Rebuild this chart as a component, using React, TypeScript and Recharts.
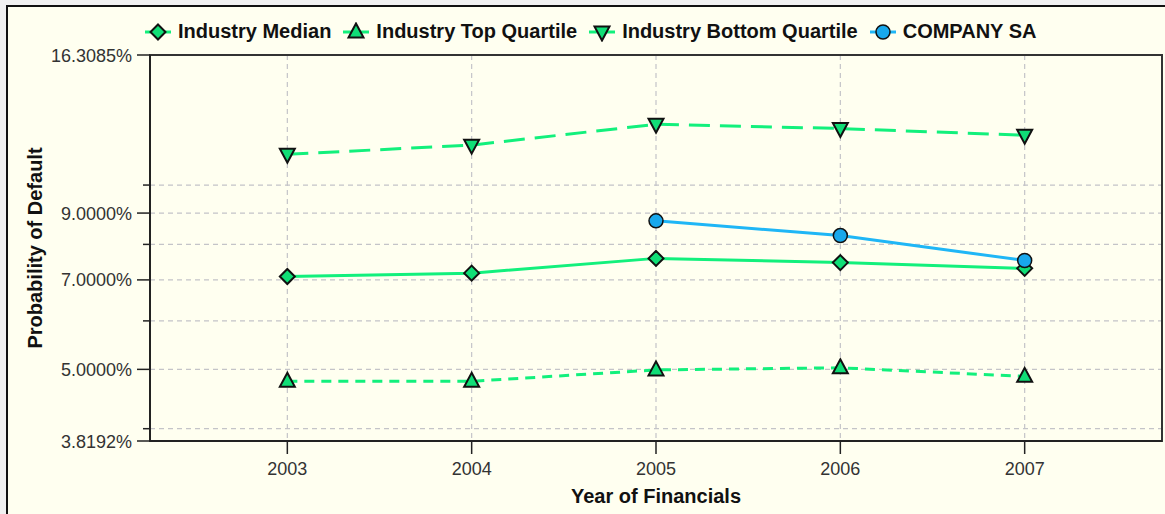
import React from 'react'
import {
  LineChart, Line, XAxis, YAxis, CartesianGrid, Legend, ReferenceArea, Label
} from 'recharts'

const years = [2003, 2004, 2005, 2006, 2007]
const median = [7.09, 7.18, 7.59, 7.47, 7.31]
const topQuartile = [4.78, 4.78, 4.99, 5.03, 4.87]
const bottomQuartile = [11.23, 11.62, 12.57, 12.37, 12.06]
const company = [null, null, 8.74, 8.27, 7.53]

const yMin = 3.8192
const yMax = 16.3085
const yTicks = [3.8192, 4, 5, 6, 7, 8, 9, 10, 16.3085]
const yLabeled = [3.8192, 5, 7, 9, 16.3085]
const xDomain = [2002.255, 2007.745]

const GREEN = '#12f07c'
const GREEN_FILL = '#10de76'
const BLUE = '#1fb6f6'
const BLUE_FILL = '#18a8ec'
const FONT = '"Liberation Sans", Arial, sans-serif'

const data = years.map((y, i) => ({
  year: y,
  median: median[i],
  top: topQuartile[i],
  bottom: bottomQuartile[i],
  company: company[i],
}))

type Shape = 'diamond' | 'up' | 'down' | 'circle'

const Marker = ({ cx, cy, shape }: { cx: number, cy: number, shape: Shape }) => {
  if (cx == null || cy == null || isNaN(cy)) return <g />
  const st = { stroke: '#111', strokeWidth: 2, strokeLinejoin: 'miter' as const }
  if (shape === 'diamond') {
    const r = 7.5
    return <polygon points={`${cx},${cy - r} ${cx + r},${cy} ${cx},${cy + r} ${cx - r},${cy}`} fill={GREEN_FILL} {...st} />
  }
  if (shape === 'up') {
    return <polygon points={`${cx},${cy - 8.5} ${cx + 7.5},${cy + 5.5} ${cx - 7.5},${cy + 5.5}`} fill={GREEN_FILL} {...st} />
  }
  if (shape === 'down') {
    return <polygon points={`${cx},${cy + 8.5} ${cx + 7.5},${cy - 5.5} ${cx - 7.5},${cy - 5.5}`} fill={GREEN_FILL} {...st} />
  }
  return <circle cx={cx} cy={cy} r={7} fill={BLUE_FILL} stroke="#111" strokeWidth={1.5} />
}

const dotOf = (shape: Shape) => (p: any) => <Marker key={`${shape}-${p.index}`} cx={p.cx} cy={p.cy} shape={shape} />

const legendItems: { name: string, shape: Shape, color: string }[] = [
  { name: 'Industry Median', shape: 'diamond', color: GREEN },
  { name: 'Industry Top Quartile', shape: 'up', color: GREEN },
  { name: 'Industry Bottom Quartile', shape: 'down', color: GREEN },
  { name: 'COMPANY SA', shape: 'circle', color: BLUE },
]

const renderLegend = () => (
  <div style={{ display: 'flex', alignItems: 'center', fontFamily: FONT, fontWeight: 'bold', fontSize: 20, color: '#111', whiteSpace: 'nowrap' }}>
    {legendItems.map(it => (
      <div key={it.name} style={{ display: 'flex', alignItems: 'center', marginRight: 12 }}>
        <svg width={26} height={20} style={{ marginRight: 7 }}>
          <line x1={0} x2={26} y1={10} y2={10} stroke={it.color} strokeWidth={3} />
          <Marker cx={13} cy={10} shape={it.shape} />
        </svg>
        <span>{it.name}</span>
      </div>
    ))}
  </div>
)

const YTick = ({ x, y, payload }: any) => {
  const major = yLabeled.includes(payload.value)
  return (
    <g>
      <line x1={x - (major ? 13 : 7)} x2={x} y1={y} y2={y} stroke="#222" strokeWidth={1.5} />
      {major && (
        <text x={x - 18} y={y + 6.5} textAnchor="end" fontSize={18} fontFamily={FONT} fill="#333">
          {payload.value.toFixed(4)}%
        </text>
      )}
    </g>
  )
}

const XTick = ({ x, y, payload }: any) => (
  <g>
    <line x1={x} x2={x} y1={y} y2={y + 13} stroke="#222" strokeWidth={1.5} />
    <text x={x} y={y + 34} textAnchor="middle" fontSize={18} fontFamily={FONT} fill="#333">
      {payload.value}
    </text>
  </g>
)

export default function App() {
  return (
    <div style={{ position: 'absolute', left: 0, top: 0, width: 1165, height: 514, overflow: 'hidden', background: '#f1f1f1' }}>
      <div style={{ position: 'absolute', left: 6, top: 5, width: 1180, height: 540, border: '2px solid #111', background: '#fffff0' }} />
      <div style={{ position: 'absolute', left: 0, top: 0 }}>
        <LineChart width={1165} height={514} data={data} margin={{ top: 55, right: 3, bottom: 0, left: 0 }}>
          <CartesianGrid stroke="#c4c4c8" strokeDasharray="5 4" strokeWidth={1.2} />
          <ReferenceArea x1={xDomain[0]} x2={xDomain[1]} y1={yMin} y2={yMax} fill="none" stroke="#333" strokeWidth={2} />
          <XAxis
            dataKey="year" type="number" domain={xDomain} ticks={years} allowDataOverflow
            height={73} tickSize={0} tickMargin={0} tick={<XTick />}
            axisLine={{ stroke: '#222', strokeWidth: 2 }} tickLine={false}
          >
            <Label
              content={({ viewBox }: any) => (
                <text x={viewBox.x + viewBox.width / 2} y={viewBox.y + 62} textAnchor="middle" fontSize={20} fontWeight="bold" fontFamily={FONT} fill="#111">
                  Year of Financials
                </text>
              )}
            />
          </XAxis>
          <YAxis
            type="number" scale="log" domain={[yMin, yMax]} ticks={yTicks} allowDataOverflow
            width={150} tickSize={0} tickMargin={0} tick={<YTick />} interval={0}
            axisLine={{ stroke: '#222', strokeWidth: 2 }} tickLine={false}
          >
            <Label
              content={({ viewBox }: any) => {
                const cx = 35
                const cy = viewBox.y + viewBox.height / 2
                return (
                  <text x={cx} y={cy} transform={`rotate(-90 ${cx} ${cy})`} textAnchor="middle" dominantBaseline="central" fontSize={20} fontWeight="bold" fontFamily={FONT} fill="#111">
                    Probability of Default
                  </text>
                )
              }}
            />
          </YAxis>
          <Legend
            layout="horizontal" verticalAlign="middle" align="center"
            content={renderLegend}
            wrapperStyle={{ position: 'absolute', top: 20, left: 145, width: 1000 }}
          />
          <Line dataKey="median" name="Industry Median" stroke={GREEN} strokeWidth={3} dot={dotOf('diamond')} activeDot={false} isAnimationActive={false} />
          <Line dataKey="top" name="Industry Top Quartile" stroke={GREEN} strokeWidth={3} strokeDasharray="10 7" dot={dotOf('up')} activeDot={false} isAnimationActive={false} />
          <Line dataKey="bottom" name="Industry Bottom Quartile" stroke={GREEN} strokeWidth={3} strokeDasharray="21 10" dot={dotOf('down')} activeDot={false} isAnimationActive={false} />
          <Line dataKey="company" name="COMPANY SA" stroke={BLUE} strokeWidth={3} dot={dotOf('circle')} activeDot={false} isAnimationActive={false} />
        </LineChart>
      </div>
    </div>
  )
}
